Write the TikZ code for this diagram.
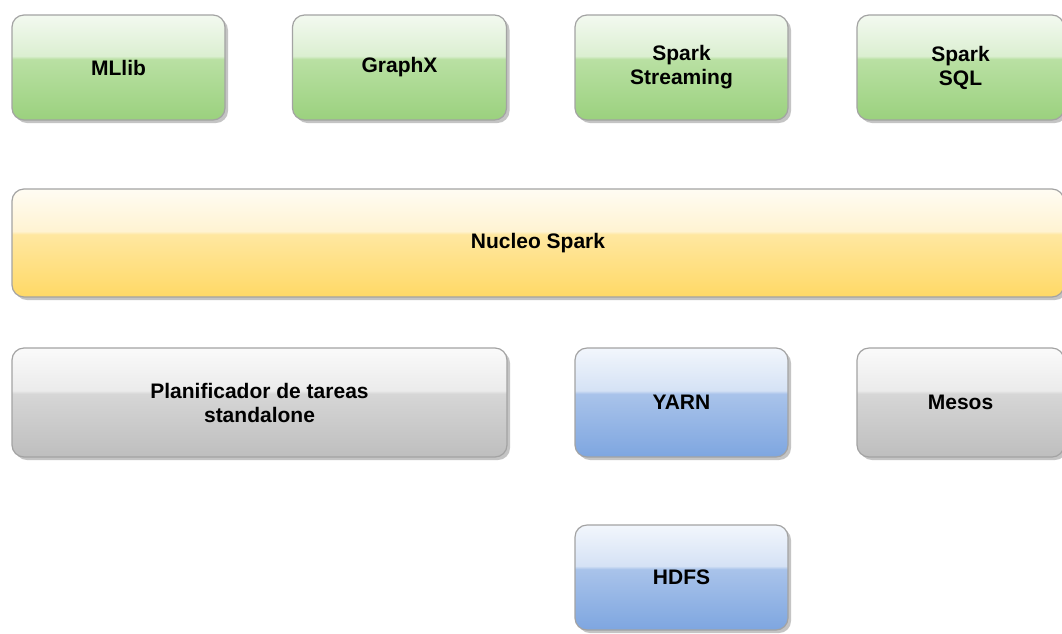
\documentclass[tikz,border=0pt]{standalone}
\usepackage{fontspec}
\setmainfont{Liberation Sans}
\usetikzlibrary{shadows}
\definecolor{bordergray}{HTML}{A3A3A3}
\definecolor{shadowgray}{HTML}{C4C4C4}
% green
\definecolor{gDark}{HTML}{9BD17E}
\definecolor{gMid}{HTML}{B9E0A3}
\definecolor{gLight}{HTML}{DBEFD1}
\definecolor{gTop}{HTML}{F3F9F0}
% yellow
\definecolor{yDark}{HTML}{FFD966}
\definecolor{yMid}{HTML}{FFE7A0}
\definecolor{yLight}{HTML}{FFF3D2}
\definecolor{yTop}{HTML}{FFFCF3}
% blue
\definecolor{bDark}{HTML}{7EA6E0}
\definecolor{bMid}{HTML}{A9C3EA}
\definecolor{bLight}{HTML}{D5E2F5}
\definecolor{bTop}{HTML}{F2F6FC}
% gray
\definecolor{kDark}{HTML}{BEBEBE}
\definecolor{kMid}{HTML}{D6D6D6}
\definecolor{kLight}{HTML}{EBEBEB}
\definecolor{kTop}{HTML}{FAFAFA}
\pgfdeclareverticalshading{glassgreen}{100bp}{color(0bp)=(gDark); color(25bp)=(gDark); color(54bp)=(gMid); color(55.5bp)=(gLight); color(75bp)=(gTop); color(100bp)=(gTop)}
\pgfdeclareverticalshading{glassyellow}{100bp}{color(0bp)=(yDark); color(25bp)=(yDark); color(54bp)=(yMid); color(55.5bp)=(yLight); color(75bp)=(yTop); color(100bp)=(yTop)}
\pgfdeclareverticalshading{glassblue}{100bp}{color(0bp)=(bDark); color(25bp)=(bDark); color(54bp)=(bMid); color(55.5bp)=(bLight); color(75bp)=(bTop); color(100bp)=(bTop)}
\pgfdeclareverticalshading{glassgray}{100bp}{color(0bp)=(kDark); color(25bp)=(kDark); color(54bp)=(kMid); color(55.5bp)=(kLight); color(75bp)=(kTop); color(100bp)=(kTop)}
\begin{document}
\begin{tikzpicture}[x=1pt,y=-1pt,
  box/.style={rectangle, rounded corners=12pt, draw=bordergray, line width=1.2pt,
    font=\fontsize{21}{24}\selectfont\bfseries, align=center, inner sep=0pt,
    text=black,
    drop shadow={shadow xshift=3pt, shadow yshift=-3pt, fill=shadowgray, opacity=1, draw=none}},
  greenbox/.style={box, shading=glassgreen},
  yellowbox/.style={box, shading=glassyellow},
  bluebox/.style={box, shading=glassblue},
  graybox/.style={box, shading=glassgray}
]
\clip (0,0) rectangle (1062,633);
\fill[white] (0,0) rectangle (1062,633);
% top row
\node[greenbox, minimum width=213pt, minimum height=105pt] (mllib) at (118.5,67.5) {MLlib};
\node[greenbox, minimum width=214pt, minimum height=105pt] (graphx) at (399.5,67.5) {GraphX};
\node[greenbox, minimum width=213pt, minimum height=105pt] (stream) at (681.5,67.5) {Spark\\Streaming};
\node[greenbox, minimum width=207pt, minimum height=105pt] (sql) at (960.5,67.5) {Spark\\SQL};
% core
\node[yellowbox, minimum width=1052pt, minimum height=108pt] (core) at (538,243) {Nucleo Spark};
% cluster managers
\node[graybox, minimum width=495pt, minimum height=109pt] (sched) at (259.5,402.5) {Planificador de tareas\\standalone};
\node[bluebox, minimum width=213pt, minimum height=109pt] (yarn) at (681.5,402.5) {YARN};
\node[graybox, minimum width=207pt, minimum height=109pt] (mesos) at (960.5,402.5) {Mesos};
% storage
\node[bluebox, minimum width=213pt, minimum height=105pt] (hdfs) at (681.5,577.5) {HDFS};
\end{tikzpicture}
\end{document}
